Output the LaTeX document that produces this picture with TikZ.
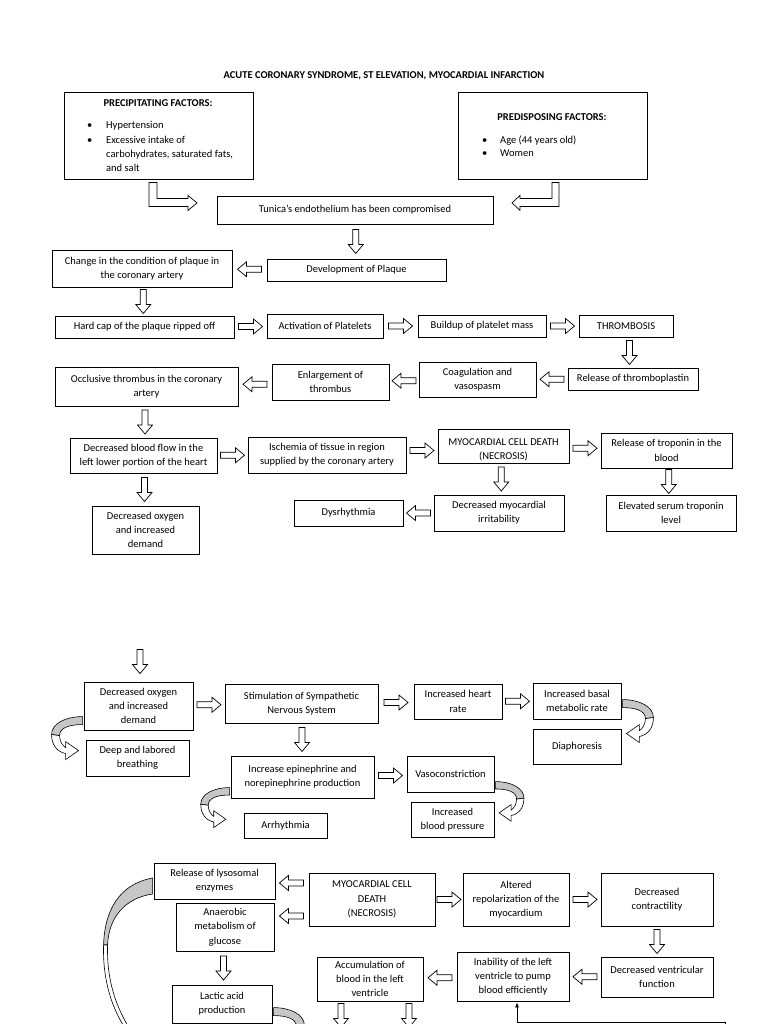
\documentclass[tikz,border=0pt]{standalone}
\usepackage{fontspec}
\setmainfont{Carlito}
\usetikzlibrary{calc,arrows.meta}
\newcommand{\fsz}{\fontsize{10.5}{14.3}\selectfont}
\newcommand{\mybox}[6]{\node[box,minimum width=#4pt,minimum height=#5pt] (#1) at (#2,#3) {#6};}
\begin{document}
\begin{tikzpicture}[x=1pt,y=-1pt,
  box/.style={draw,line width=0.85pt,align=center,inner sep=1pt,font=\fsz},
  lbl/.style={inner sep=0pt,font=\fsz},
  pics/barr/.style={code={\draw[fill=white,line width=0.7pt] (-12,-3) -- (3,-3) -- (3,-7.5) -- (12,0) -- (3,7.5) -- (3,3) -- (-12,3) -- cycle;}},
  pics/curl/.style={code={
    \filldraw[fill=gray!45,line width=0.6pt] (0,0) .. controls (17,0) and (31,7) .. (31,18) -- (23,19) .. controls (23,11) and (13,8) .. (0,8) -- cycle;
    \filldraw[fill=white,line width=0.6pt] (31,18) .. controls (31,28) and (26,35) .. (17,37) -- (17,43) -- (4,34) -- (17,25) -- (17,31) .. controls (20,29) and (23,25) .. (23,19) -- cycle;}}
]
\useasboundingbox (0,0) rectangle (768,1024);
\fill[white] (0,0) rectangle (768,1024);
\clip (0,0) rectangle (768,1024);

\node[lbl,font=\fsz\bfseries] (title) at (384,76) {ACUTE CORONARY SYNDROME, ST ELEVATION, MYOCARDIAL INFARCTION};

% ---------- part 1 ----------
\mybox{pf}{158.5}{135.5}{189}{87}{}
\node[lbl,font=\fsz\bfseries] (pft) at (158,103) {PRECIPITATING FACTORS:};
\node[lbl,anchor=base west] (pfb1) at (87,128.5) {\textbullet};
\node[lbl,anchor=base west] (pf1) at (106,128.5) {Hypertension};
\node[lbl,anchor=base west] (pfb2) at (87,143.5) {\textbullet};
\node[lbl,anchor=base west] (pf2) at (106,143.5) {Excessive intake of};
\node[lbl,anchor=base west] (pf3) at (106,157.5) {carbohydrates, saturated fats,};
\node[lbl,anchor=base west] (pf4) at (106,171.5) {and salt};

\mybox{pd}{552.5}{135.5}{189}{87}{}
\node[lbl,font=\fsz\bfseries] (pdt) at (552,117) {PREDISPOSING FACTORS:};
\node[lbl,anchor=base west] (pdb1) at (482,143.5) {\textbullet};
\node[lbl,anchor=base west] (pd1) at (500,143.5) {Age (44 years old)};
\node[lbl,anchor=base west] (pdb2) at (482,156.5) {\textbullet};
\node[lbl,anchor=base west] (pd2) at (500,156.5) {Women};

\mybox{tun}{355}{210}{276}{28}{Tunica’s endothelium has been compromised}
\mybox{plq}{356.5}{270}{179}{22}{Development of Plaque}
\mybox{chg}{142}{268.5}{180}{37}{Change in the condition of plaque in\\the coronary artery}
\mybox{hc}{144.5}{327}{179}{22}{Hard cap of the plaque ripped off}
\mybox{act}{325}{326}{116}{24}{Activation of Platelets}
\mybox{bu}{482}{326}{128}{22}{Buildup of platelet mass}
\mybox{thr}{626}{326}{94}{22}{THROMBOSIS}
\mybox{rt}{633}{379}{130}{22}{Release of thromboplastin}
\mybox{coag}{477.5}{379.5}{117}{35}{Coagulation and\\vasospasm}
\mybox{enl}{330.5}{382}{117}{36}{Enlargement of\\thrombus}
\mybox{occ}{146.5}{386.5}{183}{39}{Occlusive thrombus in the coronary\\artery}
\mybox{dbf}{143.5}{455.5}{147}{35}{Decreased blood flow in the\\left lower portion of the heart}
\mybox{isch}{327}{455}{158}{36}{Ischemia of tissue in region\\supplied by the coronary artery}
\mybox{mcda}{503.5}{446}{131}{34}{}
\node[lbl,align=center] (mcdat) at ($(mcda.center)+(0,4)$) {MYOCARDIAL CELL DEATH\\(NECROSIS)};
\mybox{trop}{666.5}{450.5}{131}{35}{Release of troponin in the\\blood}
\mybox{dmi}{499}{513}{130}{36}{Decreased myocardial\\irritability}
\mybox{elev}{671}{513}{130}{36}{Elevated serum troponin\\level}
\mybox{dys}{348.5}{513}{109}{26}{Dysrhythmia}
\mybox{doa}{145.5}{530}{107}{48}{Decreased oxygen\\and increased\\demand}

% L-shaped block arrows
\begin{scope}[shift={(pf.south)}]
\draw[fill=white,line width=0.7pt] (-9.5,3) -- (-1.5,3) -- (-1.5,19) -- (29.5,19) -- (29.5,16) -- (38.5,23.5) -- (29.5,31) -- (29.5,27) -- (-9.5,27) -- cycle;
\end{scope}
\begin{scope}[shift={(pd.south)}]
\draw[fill=white,line width=0.7pt] (6.5,3) -- (-0.5,3) -- (-0.5,19) -- (-32.5,19) -- (-32.5,16) -- (-40.5,23.5) -- (-32.5,31) -- (-32.5,27) -- (6.5,27) -- cycle;
\end{scope}

\pic[rotate=-90] at ($(tun.south)!0.5!(plq.north)$) {barr};
\pic[rotate=180] at ($(plq.west)!0.5!(chg.east)$) {barr};
\pic[rotate=-90] at ($(chg.south)!0.5!(hc.north)$) {barr};
\pic at ($(hc.east)!0.5!(act.west)$) {barr};
\pic at ($(act.east)!0.5!(bu.west)$) {barr};
\pic at ($(bu.east)!0.5!(thr.west)$) {barr};
\pic[rotate=-90] at ($(thr.south)!0.5!(rt.north)$) {barr};
\pic[rotate=180] at ($(rt.west)!0.5!(coag.east)$) {barr};
\pic[rotate=180] at ($(coag.west)!0.5!(enl.east)$) {barr};
\pic[rotate=180] at ($(enl.west)!0.5!(occ.east)$) {barr};
\pic[rotate=-90] at ($(occ.south)!0.5!(dbf.north)$) {barr};
\pic at ($(dbf.east)!0.5!(isch.west)$) {barr};
\pic at ($(isch.east)!0.5!(mcda.west)$) {barr};
\pic at ($(mcda.east)!0.5!(trop.west)$) {barr};
\pic[rotate=-90] at ($(mcda.south)!0.5!(dmi.north)$) {barr};
\pic[rotate=-90] at ($(trop.south)!0.5!(elev.north)$) {barr};
\pic[rotate=180] at ($(dmi.west)!0.5!(dys.east)$) {barr};
\pic[rotate=-90] at ($(dbf.south)!0.5!(doa.north)$) {barr};

% ---------- part 2 ----------
\mybox{dob}{138.5}{706}{109}{48}{Decreased oxygen\\and increased\\demand}
\mybox{stim}{301.5}{703.5}{153}{39}{Stimulation of Sympathetic\\Nervous System}
\mybox{hr}{458}{701.5}{88}{35}{Increased heart\\rate}
\mybox{bmr}{577}{701}{88}{36}{Increased basal\\metabolic rate}
\mybox{dia}{577}{746.5}{88}{35}{Diaphoresis}
\mybox{epi}{302.5}{777}{143}{42}{Increase epinephrine and\\norepinephrine production}
\mybox{vaso}{450.5}{774}{87}{36}{Vasoconstriction}
\mybox{bp}{452.5}{819.5}{83}{35}{Increased\\blood pressure}
\mybox{deep}{137.5}{758}{103}{36}{Deep and labored\\breathing}
\mybox{arr}{285.5}{825.5}{83}{25}{Arrhythmia}

\pic[rotate=-90] at ($(dob.north)+(1.5,-20)$) {barr};
\pic at ($(dob.east)!0.5!(stim.west)$) {barr};
\pic at ($(stim.east)!0.5!(hr.west)$) {barr};
\pic at ($(hr.east)!0.5!(bmr.west)$) {barr};
\pic[rotate=-90] at ($(stim.south)!0.5!(epi.north)$) {barr};
\pic at ($(epi.east)!0.5!(vaso.west)$) {barr};

\pic at ($(bmr.north east)+(1,17)$) {curl};
\pic[scale=0.92] at ($(vaso.north east)+(1,26)$) {curl};
\pic[xscale=-1] at ($(dob.north west)+(-1,35)$) {curl};
\pic[xscale=-0.93,yscale=0.93] at ($(epi.north west)+(-1,32)$) {curl};

% ---------- part 3 ----------
\mybox{lyso}{214.5}{881}{121}{36}{Release of lysosomal\\enzymes}
\mybox{mcdb}{372}{899.5}{126}{53}{MYOCARDIAL CELL\\DEATH\\(NECROSIS)}
\mybox{anae}{225}{927}{98}{48}{Anaerobic\\metabolism of\\glucose}
\mybox{lac}{222}{1004}{100}{38}{Lactic acid\\production}
\mybox{alt}{516}{899.5}{106}{53}{Altered\\repolarization of the\\myocardium}
\mybox{dcon}{657}{899.5}{112}{53}{Decreased\\contractility}
\mybox{dvf}{657}{977}{112}{40}{Decreased ventricular\\function}
\mybox{inab}{513}{976.5}{112}{49}{Inability of the left\\ventricle to pump\\blood efficiently}
\mybox{acc}{370}{979}{106}{44}{Accumulation of\\blood in the left\\ventricle}

\pic[rotate=180] at ($(lyso.east)+(16,2)$) {barr};
\pic[rotate=180] at ($(anae.east)+(17,-11)$) {barr};
\pic at ($(mcdb.east)!0.5!(alt.west)$) {barr};
\pic at ($(alt.east)!0.5!(dcon.west)$) {barr};
\pic[rotate=-90] at ($(dcon.south)!0.5!(dvf.north)$) {barr};
\pic[rotate=180] at ($(dvf.west)!0.5!(inab.east)$) {barr};
\pic[rotate=180] at ($(inab.west)!0.5!(acc.east)$) {barr};
\pic[rotate=-90] at ($(anae.south)!0.5!(lac.north)$) {barr};
\pic[rotate=-90] at ($(acc.south)+(-29,14)$) {barr};
\pic[rotate=-90] at ($(acc.south)+(39,14)$) {barr};

\pic at ($(lac.north east)+(1,23)$) {curl};

\begin{scope}[shift={(lyso.west)}]
\filldraw[fill=gray!45,line width=0.6pt] (-1,-3) .. controls (-34,3) and (-49,29) .. (-50,64) -- (-46,64) .. controls (-45,37) and (-29,17) .. (-1,13) -- cycle;
\filldraw[fill=white,line width=0.6pt] (-50,64) .. controls (-51,99) and (-42,129) .. (-24,154) -- (-20,154) .. controls (-38,127) and (-47,99) .. (-46,64) -- cycle;
\end{scope}

\coordinate (fb) at (725,1034);
\draw[line width=0.8pt,-{Latex[length=5pt,width=4pt]}] (fb) |- ($(inab.south)+(4,21)$) -- ($(inab.south)+(4,1)$);
\end{tikzpicture}
\end{document}
